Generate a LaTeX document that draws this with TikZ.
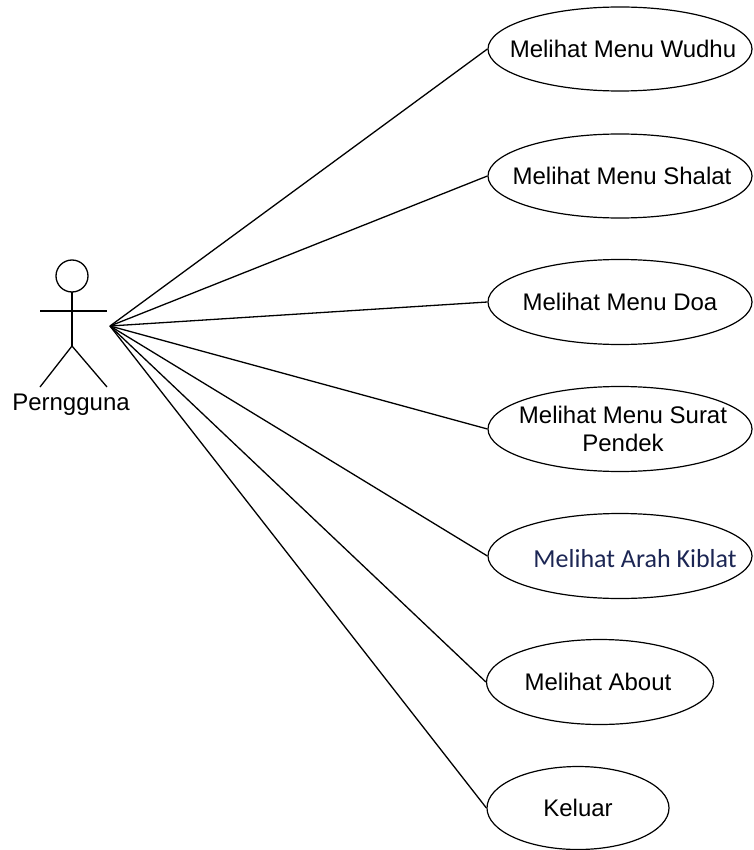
\documentclass[tikz,border=0pt]{standalone}
\usepackage{fontspec}
\setmainfont{Liberation Sans}
\newfontfamily\kiblatfont{Carlito}
\usetikzlibrary{shapes.geometric}
\definecolor{KiblatBlue}{RGB}{28,38,84}
\tikzset{
  uc/.style={ellipse,draw=black,line width=1.2pt,inner sep=0pt},
  every label/.style={font=\fontsize{24}{28}\selectfont,align=center,inner sep=0pt},
  link/.style={draw=black,line width=1.3pt},
  stick/.style={draw=black,line width=1.3pt},
}

\begin{document}
\begin{tikzpicture}[x=1pt,y=-1pt]
\useasboundingbox (0,0) rectangle (753,850);
% actor
\coordinate (head) at (72,276);
\coordinate (neck) at (72,292);
\coordinate (hip) at (72,346);
\coordinate (handl) at (40,311);
\coordinate (handr) at (107,311);
\coordinate (footl) at (40,387);
\coordinate (footr) at (107,387);
\coordinate (hub) at (110,326);
\draw[stick] (head) circle (16pt);
\draw[stick] (neck) -- (hip);
\draw[stick] (handl) -- (handr);
\draw[stick] (footl) -- (hip) -- (footr);
\node[anchor=base,font=\fontsize{24}{28}\selectfont] (user) at (71,410) {Perngguna};
% use cases
\node[uc,minimum width=264pt,minimum height=84pt,label={[xshift=3pt]center:Melihat Menu Wudhu}] (wudhu) at (620,49) {};
\node[uc,minimum width=264pt,minimum height=84pt,label={[xshift=2pt]center:Melihat Menu Shalat}] (shalat) at (620,176) {};
\node[uc,minimum width=264pt,minimum height=85pt,label={center:Melihat Menu Doa}] (doa) at (620,302) {};
\node[uc,minimum width=264pt,minimum height=85pt,label={[xshift=3pt]center:Melihat Menu Surat\\Pendek}] (surat) at (620,429) {};
\node[uc,minimum width=264pt,minimum height=85pt,
  label={[font=\kiblatfont\fontsize{26}{30}\selectfont,text=KiblatBlue,xshift=15pt,yshift=-3pt]center:Melihat Arah Kiblat}] (kiblat) at (620,556) {};
\node[uc,minimum width=227pt,minimum height=85pt,label={[xshift=-2pt]center:Melihat About}] (about) at (600,682) {};
\node[uc,minimum width=182pt,minimum height=83pt,label={center:Keluar}] (keluar) at (578,808) {};
% connectors
\draw[link] (hub) -- (wudhu.west);
\draw[link] (hub) -- (shalat.west);
\draw[link] (hub) -- (doa.west);
\draw[link] (hub) -- (surat.west);
\draw[link] (hub) -- (kiblat.west);
\draw[link] (hub) -- (about.west);
\draw[link] (hub) -- (keluar.west);
\end{tikzpicture}
\end{document}
